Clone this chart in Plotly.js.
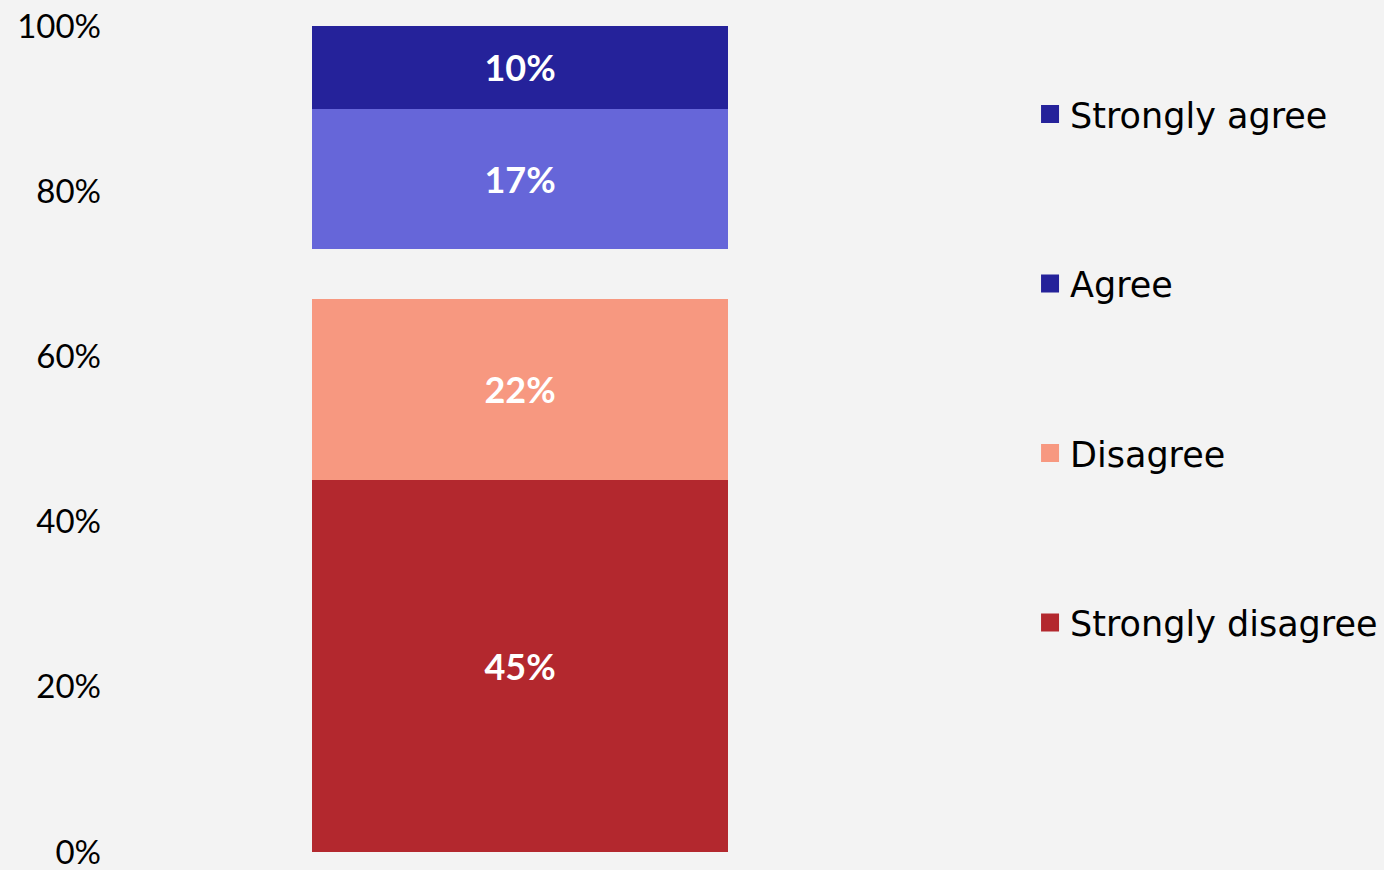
<!DOCTYPE html>
<html>
<head>
<meta charset="utf-8">
<script src="https://cdn.plot.ly/plotly-3.0.1.min.js"></script>
<style>
html,body{margin:0;padding:0;background:#f3f3f3;}
#chart{width:1384px;height:870px;}
</style>
</head>
<body>
<div id="chart"></div>
<script>
// ---- data ----
var categories = ["All respondents"];
var stronglyDisagree = [45];
var disagree = [22];
var neutral = [6];          // not labelled in the reference (blank gap)
var agree = [17];
var stronglyAgree = [10];

var legendNames = ["Strongly agree", "Agree", "Disagree", "Strongly disagree"];
var legendColors = ["#25229a", "#25229a", "#f79880", "#b3282e"];

var tickVals = [0, 20, 40, 60, 80, 100];
var tickText = ["0%", "20%", "40%", "60%", "80%", "100%"];

// ---- styles ----
var FONT = "Century Gothic, 'URW Gothic', Lato, sans-serif";
var LEGEND_FONT = "Century Gothic, 'DejaVu Sans', sans-serif";

function barTrace(name, vals, color, labelled) {
  return {
    type: "bar",
    name: name,
    x: categories,
    y: vals,
    marker: {color: color},
    text: labelled ? vals.map(function (v) { return v + "%"; }) : null,
    textposition: labelled ? "inside" : "none",
    insidetextanchor: "middle",
    textfont: {family: FONT, size: 36, color: "#ffffff", weight: 700},
    hoverinfo: "name+y",
    showlegend: false
  };
}

var traces = [
  barTrace("Strongly disagree", stronglyDisagree, "#b3282e", true),
  barTrace("Disagree", disagree, "#f79880", true),
  barTrace("Neutral", neutral, "rgba(0,0,0,0)", false),
  barTrace("Agree", agree, "#6666d9", true),
  barTrace("Strongly agree", stronglyAgree, "#25229a", true)
];

// legend entries
legendNames.forEach(function (n, i) {
  traces.push({
    type: "scatter",
    mode: "markers",
    name: n,
    x: [null],
    y: [null],
    legendgroup: "g" + i,
    marker: {symbol: "square", size: 16, color: legendColors[i], line: {width: 2, color: legendColors[i]}},
    showlegend: true,
    hoverinfo: "skip"
  });
});

var layout = {
  width: 1384,
  height: 870,
  paper_bgcolor: "#f3f3f3",
  plot_bgcolor: "#f3f3f3",
  barmode: "stack",
  bargap: 0.493,
  margin: {l: 110, r: 454, t: 26, b: 18, autoexpand: false},
  font: {family: FONT, color: "#000000", size: 33},
  xaxis: {
    type: "category",
    showticklabels: false,
    showgrid: false,
    zeroline: false,
    showline: false,
    range: [-0.5, 0.5]
  },
  yaxis: {
    range: [0, 100],
    tickvals: tickVals,
    ticktext: tickText,
    showgrid: false,
    zeroline: false,
    showline: false,
    ticks: "",
    ticklabelstandoff: 8,
    ticklabeloverflow: "allow",
    tickfont: {family: FONT, size: 33, color: "#000000"}
  },
  showlegend: true,
  legend: {
    x: 1.122,
    xanchor: "left",
    y: 0.929,
    yanchor: "top",
    traceorder: "grouped",
    tracegroupgap: 121,
    bgcolor: "rgba(0,0,0,0)",
    font: {family: LEGEND_FONT, size: 35, color: "#000000"},
    itemwidth: 30
  }
};

Plotly.newPlot("chart", traces, layout, {displayModeBar: false, staticPlot: true});
</script>
</body>
</html>
